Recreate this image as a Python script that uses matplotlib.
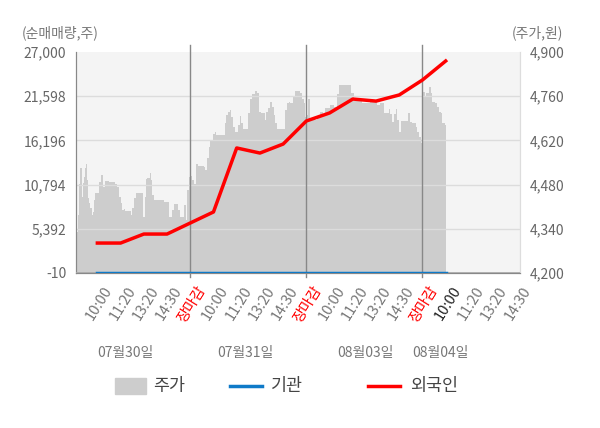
import matplotlib
matplotlib.use('Agg')
import matplotlib.pyplot as plt
import matplotlib.transforms as mtransforms
from matplotlib.lines import Line2D
from matplotlib.patches import Rectangle

plt.rcParams['font.family'] = ['Noto Sans CJK KR', 'DejaVu Sans']

# x axis: slots (10:00 of day 1 = 0, 장마감 = 4, ...)
tick_labels = ['10:00', '11:20', '13:20', '14:30', '장마감',
               '10:00', '11:20', '13:20', '14:30', '장마감',
               '10:00', '11:20', '13:20', '14:30', '장마감',
               '10:00', '11:20', '13:20', '14:30']
dates = ['07월30일', '07월31일', '08월03일', '08월04일']

# price (주가) as steps: slot position and price
price_x = [-0.87, -0.83, -0.77, -0.73, -0.68, -0.63, -0.58, -0.54, -0.48, -0.44,
           -0.40, -0.34, -0.30, -0.25, -0.20, -0.15, -0.11, 0.09, 0.14, 0.24,
           0.32, 0.49, 0.75, 0.85, 0.93, 1.00, 1.07, 1.14, 1.21, 1.43,
           1.50, 1.57, 1.67, 1.96, 2.05, 2.10, 2.15, 2.25, 2.29, 2.36,
           2.43, 2.86, 3.08, 3.22, 3.30, 3.48, 3.54, 3.73, 3.80, 3.87, 3.94,
           4.00, 4.07, 4.16, 4.26, 4.33, 4.58, 4.65, 4.73, 4.79, 4.86,
           4.96, 5.05, 5.11, 5.48, 5.55, 5.62, 5.70, 5.77, 5.83, 5.91,
           6.05, 6.13, 6.18, 6.26, 6.47, 6.56, 6.66, 6.78, 6.88, 6.98,
           7.05, 7.20, 7.28, 7.35, 7.45, 7.52, 7.59, 7.66, 7.74, 8.09,
           8.17, 8.24, 8.31, 8.41, 8.53, 8.74, 8.81, 8.88, 8.96,
           9.00, 9.05, 9.14, 9.46, 9.57, 9.72, 9.82, 10.01, 10.18, 10.32,
           10.39, 10.93, 11.04, 11.40, 11.76, 12.05, 12.19, 12.33, 12.55, 12.62,
           12.69, 12.76, 12.84, 12.91, 13.01, 13.08, 13.37, 13.45, 13.56, 13.70,
           13.77, 13.87, 13.94,
           14.03, 14.09, 14.17, 14.26, 14.35, 14.42, 14.52, 14.63, 14.70, 14.78,
           14.85, 14.95, 15.00]
price = [4330, 4384, 4482, 4533, 4441, 4485, 4504, 4533, 4545, 4495,
         4438, 4422, 4406, 4384, 4393, 4431, 4453, 4488, 4510, 4472,
         4491, 4488, 4482, 4472, 4441, 4422, 4400, 4403, 4396, 4384,
         4406, 4438, 4453, 4377, 4441, 4498, 4501, 4517, 4495, 4447,
         4431, 4425, 4377, 4400, 4419, 4400, 4377, 4415, 4368, 4463, 4504,
         4507, 4495, 4482, 4545, 4539, 4536, 4526, 4564, 4599, 4621,
         4640, 4647, 4637, 4675, 4700, 4710, 4716, 4694, 4662, 4647,
         4669, 4697, 4675, 4656, 4707, 4751, 4767, 4776, 4770, 4710,
         4707, 4685, 4710, 4723, 4742, 4726, 4700, 4675, 4656, 4716,
         4738, 4742, 4738, 4757, 4776, 4770, 4751, 4738, 4694,
         4700, 4751, 4685, 4697, 4710, 4700, 4723, 4732, 4726, 4767,
         4795, 4770, 4745, 4738, 4748, 4731, 4738, 4707, 4719, 4704,
         4678, 4704, 4719, 4685, 4647, 4681, 4707, 4678, 4675, 4662,
         4647, 4631, 4612,
         4773, 4757, 4770, 4789, 4770, 4742, 4738, 4726, 4710, 4707,
         4675, 4669, 4669]

# net buying (순매매량)
net_x = list(range(16))
foreign = [3650, 3650, 4750, 4750, 6100, 7450, 15270, 14650, 15750, 18570,
           19550, 21250, 21000, 21750, 23580, 25900]
institution = [0] * 16

left_ticks = [-10, 5392, 10794, 16196, 21598, 27000]
right_ticks = [4200, 4340, 4480, 4620, 4760, 4900]

fig = plt.figure(figsize=(6, 4.28), dpi=100)
ax = fig.add_axes([76 / 600, 1 - 273 / 428, 444 / 600, 221 / 428])
ax2 = ax.twinx()

# price area on the right scale
ax.set_facecolor('#f4f4f4')
ax.fill_between(price_x, price, 4200, step='post', color='#cdcdcd', linewidth=0, zorder=1)
ax.set_ylim(4200, 4900)
ax.set_xlim(-0.92, 18.2)
ax.yaxis.tick_right()
ax.set_yticks(right_ticks)
ax.set_yticklabels([f'{v:,}' for v in right_ticks])
for v in right_ticks[1:-1]:
    ax.axhline(v, color='#dcdcdc', linewidth=1, zorder=2)
for d in [4, 9, 14]:
    ax.axvline(d, ymin=-0.02, ymax=1.03, color='#888888', linewidth=1, zorder=3, clip_on=False)

# net buying lines on the left scale
ax2.yaxis.tick_left()
ax2.set_ylim(-10, 27000)
ax2.set_yticks(left_ticks)
ax2.set_yticklabels([f'{v:,}' for v in left_ticks])
ax2.axhline(-10, color='#aaaaaa', linewidth=2, zorder=3)
ax2.plot(net_x, institution, color='#0f7ac8', linewidth=2.5, zorder=4)
ax2.plot(net_x, foreign, color='#ff0000', linewidth=2.5, zorder=5)

for a in (ax, ax2):
    a.spines['top'].set_visible(False)
    a.spines['left'].set_color('#888888')
    a.spines['right'].set_color('#dddddd')
    a.spines['bottom'].set_color('#888888')
    a.tick_params(axis='y', length=0, labelsize=10, labelcolor='#666666', pad=7)

ax.set_xticks(range(len(tick_labels)))
ax.set_xticklabels(tick_labels, rotation=58, ha='right', va='top', rotation_mode='anchor')
ax.tick_params(axis='x', length=0, labelsize=10.5, pad=8)
shift = mtransforms.ScaledTranslation(6 / 100, 0, fig.dpi_scale_trans)
for i, lab in enumerate(ax.get_xticklabels()):
    lab.set_transform(lab.get_transform() + shift)
    if tick_labels[i] == '장마감':
        lab.set_color('#ff0000')
    elif i == 15:
        lab.set_color('#222222')
    else:
        lab.set_color('#777777')

date_pos = [1.2, 6.36, 11.54, 14.78]
date_tr = mtransforms.blended_transform_factory(ax.transData, fig.transFigure)
for p, d in zip(date_pos, dates):
    ax.text(p, 1 - 353 / 428, d, transform=date_tr,
            ha='center', va='center', fontsize=10, color='#777777')

fig.text(22 / 600, 1 - 33 / 428, '(순매매량,주)', fontsize=10, color='#777777', va='center', ha='left')
fig.text(563 / 600, 1 - 33 / 428, '(주가,원)', fontsize=10, color='#777777', va='center', ha='right')

# legend
ly = 1 - 386 / 428
fig.add_artist(Rectangle((115 / 600, ly - 8 / 428), 31 / 600, 16 / 428, color='#cdcdcd',
                         transform=fig.transFigure))
fig.text(153 / 600, ly, '주가', fontsize=12.5, color='#444444', va='center')
fig.add_artist(Line2D([230 / 600, 262 / 600], [ly, ly], color='#0f7ac8', linewidth=2.5,
                      transform=fig.transFigure))
fig.text(271 / 600, ly, '기관', fontsize=12.5, color='#444444', va='center')
fig.add_artist(Line2D([368 / 600, 400 / 600], [ly, ly], color='#ff0000', linewidth=2.5,
                      transform=fig.transFigure))
fig.text(410 / 600, ly, '외국인', fontsize=12.5, color='#444444', va='center')

plt.savefig('out.png', dpi=100)
